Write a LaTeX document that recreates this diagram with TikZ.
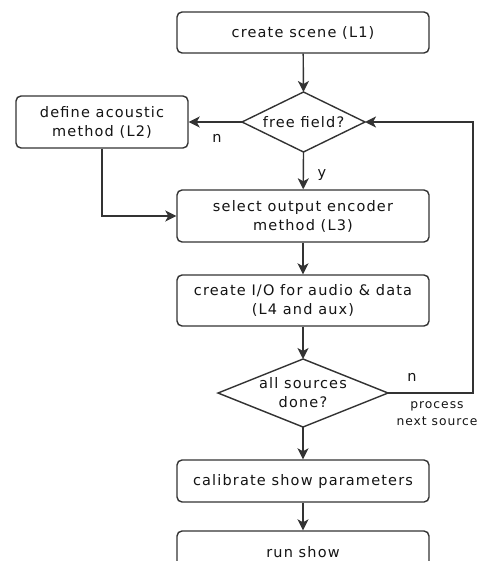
\documentclass[tikz,border=0pt]{standalone}
\usepackage{fontspec}
\newfontfamily\dv[LetterSpace=8]{DejaVu Sans}
\usetikzlibrary{arrows.meta,calc}
\definecolor{ln}{HTML}{333333}
\definecolor{tx}{HTML}{141414}
\begin{document}
\begin{tikzpicture}[x=1pt,y=-1pt,
  every node/.style={font=\dv\fontsize{14.5}{19}\selectfont, text=tx},
  box/.style={draw=ln, line width=1.4pt, rounded corners=5pt, fill=white, align=center, minimum width=252pt, inner sep=0pt},
  txt/.style={align=center, inner sep=0pt},
  small/.style={font=\dv\fontsize{12.3}{17}\selectfont, align=center, inner sep=0pt},
  conn/.style={draw=ln, line width=1.4pt, -{Stealth[length=11pt,width=11pt,inset=3pt]}},
  dia/.style={draw=ln, line width=1.4pt, fill=white, line join=miter}]
\fill[white] (0,0) rectangle (483,561);
\useasboundingbox (0,0) rectangle (483,561);
\clip (0,0) rectangle (483,561);
% boxes
\node[box, minimum height=41pt] (scene) at (303,32.5) {create scene (L1)};
\node[box, minimum width=172pt, minimum height=52pt] (acou) at (102,122) {define acoustic\\method (L2)};
\node[box, minimum height=52pt] (sel) at (303,216) {select output encoder\\method (L3)};
\node[box, minimum height=51pt] (io) at (303,300.5) {create I/O for audio \& data\\(L4 and aux)};
\node[box, minimum height=42pt] (cal) at (303,481) {calibrate show parameters};
\node[box, minimum height=42pt] (run) at (303,552) {run show};
% diamonds
\coordinate (ffT) at (303.5,92);
\coordinate (ffB) at (303.5,152);
\coordinate (ffL) at (242,122);
\coordinate (ffR) at (365,122);
\draw[dia] (ffT) -- (ffR) -- (ffB) -- (ffL) -- cycle;
\node[txt] (ff) at (303.5,122) {free field?};
\coordinate (alT) at (303,359);
\coordinate (alB) at (303,427);
\coordinate (alL) at (218,393);
\coordinate (alR) at (388,393);
\draw[dia] (alT) -- (alR) -- (alB) -- (alL) -- cycle;
\node[txt] (al) at (303,393) {all sources\\done?};
% connectors
\draw[conn] (scene) -- (ffT);
\draw[conn] (ffL) -- (acou);
\node[txt] (n1) at (217,138) {n};
\draw[conn] (ffB) -- (sel);
\node[txt] (y1) at (322,175) {y};
\draw[conn] (acou.south) |- (sel.west);
\draw[conn] (sel) -- (io);
\draw[conn] (io) -- (alT);
\coordinate (rb) at (473,393);
\coordinate (rt) at (473,122);
\draw[conn] (alR) -- (rb) -- (rt) -- (ffR);
\node[txt] (n2) at (412,377) {n};
\node[small] (proc) at (437,414) {process\\next source};
\draw[conn] (alB) -- (cal);
\draw[conn] (cal) -- (run);
\end{tikzpicture}
\end{document}
